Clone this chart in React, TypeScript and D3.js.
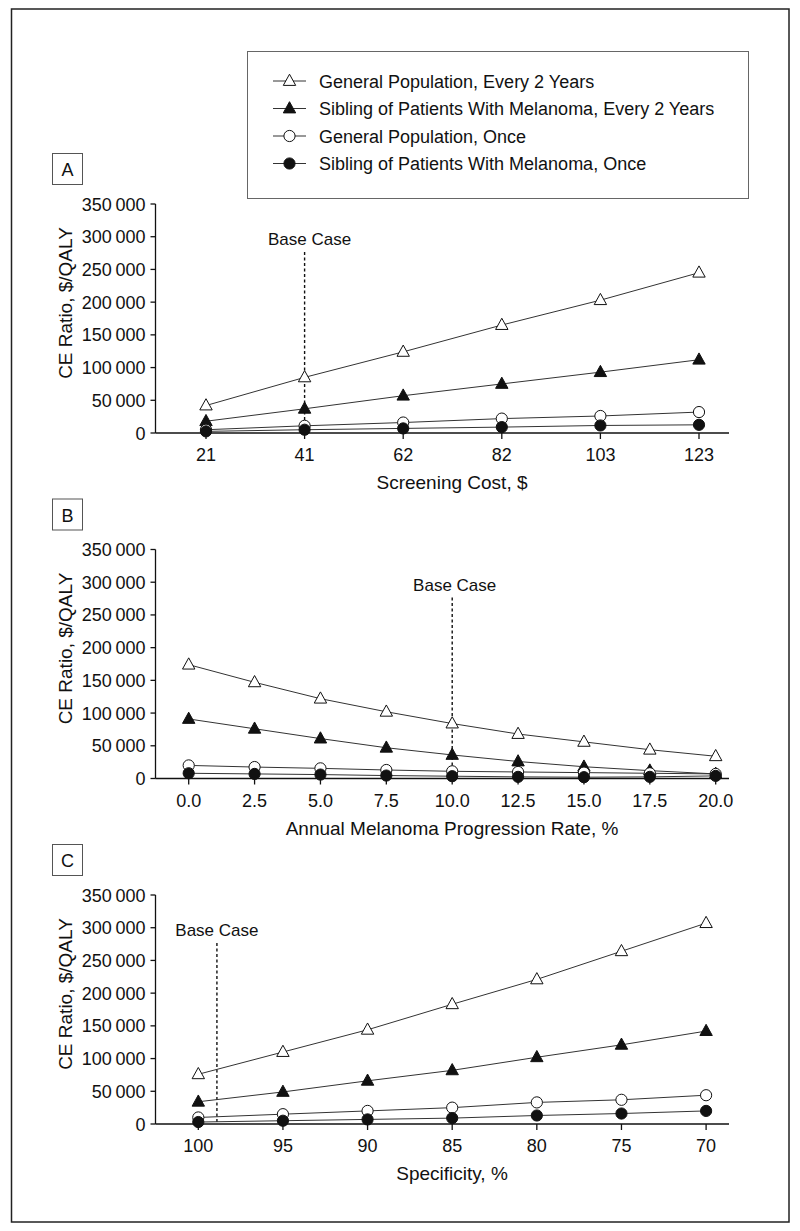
import React from "react";
import * as d3 from "d3";

const FONT = "'Liberation Sans', Arial, Helvetica, sans-serif";

// ---- data ----
const seriesNames = [
  "General Population, Every 2 Years",
  "Sibling of Patients With Melanoma, Every 2 Years",
  "General Population, Once",
  "Sibling of Patients With Melanoma, Once",
];
const seriesMarkers = ["triOpen", "triFilled", "circOpen", "circFilled"];

const yTickValues = [0, 50000, 100000, 150000, 200000, 250000, 300000, 350000];

// Panel A
const screeningCost = ["21", "41", "62", "82", "103", "123"];
const aGenEvery2 = [42000, 85000, 124000, 165000, 203000, 245000];
const aSibEvery2 = [18000, 37000, 57000, 75000, 93000, 112000];
const aGenOnce = [5000, 11000, 16000, 22000, 26000, 32000];
const aSibOnce = [2500, 5000, 7000, 9000, 11500, 12500];
const aBase = "41";

// Panel B
const progressionRate = [0, 2.5, 5, 7.5, 10, 12.5, 15, 17.5, 20];
const bGenEvery2 = [174000, 147000, 122000, 102000, 84000, 68000, 56000, 44000, 34000];
const bSibEvery2 = [91000, 76000, 61000, 47000, 36000, 26000, 18000, 12000, 7000];
const bGenOnce = [20000, 17500, 15500, 13000, 11000, 10000, 9000, 8000, 7000];
const bSibOnce = [8000, 7000, 6000, 4500, 3500, 2500, 2000, 2500, 4000];
const bBase = 10;

// Panel C
const specificity = [100, 95, 90, 85, 80, 75, 70];
const cGenEvery2 = [76000, 110000, 144000, 183000, 221000, 264000, 307000];
const cSibEvery2 = [34000, 49000, 66000, 82000, 102000, 121000, 142000];
const cGenOnce = [10000, 15000, 20000, 25000, 33000, 37000, 44000];
const cSibOnce = [3000, 5000, 7000, 9000, 13000, 16000, 20000];
const cBase = 98.9;

const fmtY = (v: number) =>
  v === 0 ? "0" : `${Math.floor(v / 1000)}\u2009${String(v % 1000).padStart(3, "0")}`;

function Marker({ type, x, y }: { type: string; x: number; y: number }) {
  if (type.startsWith("tri")) {
    const p = `M${x},${y - 6.8}L${x + 6.2},${y + 4.4}L${x - 6.2},${y + 4.4}Z`;
    return <path d={p} fill={type === "triFilled" ? "#111" : "#fff"} stroke="#111" strokeWidth={1} />;
  }
  return (
    <circle cx={x} cy={y} r={5.6} fill={type === "circFilled" ? "#111" : "#fff"} stroke="#111" strokeWidth={1} />
  );
}

type PanelDef = {
  letter: string;
  xTitle: string;
  ticks: { label: string; x: number }[];
  xs: number[];
  series: number[][];
  baseX: number;
  baseDx: number;
};

function buildPanels(): PanelDef[] {
  const xa = d3.scalePoint<string>().domain(screeningCost).range([206, 699]);
  const xb = d3.scaleLinear().domain([0, 20]).range([188.7, 715.7]);
  const xc = d3.scaleLinear().domain([100, 70]).range([198.3, 706.1]);
  return [
    {
      letter: "A",
      xTitle: "Screening Cost, $",
      ticks: screeningCost.map((c) => ({ label: c, x: xa(c) as number })),
      xs: screeningCost.map((c) => xa(c) as number),
      series: [aGenEvery2, aSibEvery2, aGenOnce, aSibOnce],
      baseX: xa(aBase) as number,
      baseDx: 5,
    },
    {
      letter: "B",
      xTitle: "Annual Melanoma Progression Rate, %",
      ticks: progressionRate.map((v) => ({ label: v.toFixed(1), x: xb(v) })),
      xs: progressionRate.map((v) => xb(v)),
      series: [bGenEvery2, bSibEvery2, bGenOnce, bSibOnce],
      baseX: xb(bBase),
      baseDx: 2.5,
    },
    {
      letter: "C",
      xTitle: "Specificity, %",
      ticks: specificity.map((v) => ({ label: String(v), x: xc(v) })),
      xs: specificity.map((v) => xc(v)),
      series: [cGenEvery2, cSibEvery2, cGenOnce, cSibOnce],
      baseX: xc(cBase),
      baseDx: 0,
    },
  ];
}

function Panel({ p, dy }: { p: PanelDef; dy: number }) {
  const y0 = 433 + dy;
  const yTop = 204 + dy;
  const y = d3.scaleLinear().domain([0, 350000]).range([y0, yTop]);
  const axisX = 155.5;
  const axisRight = 729;
  const line = d3
    .line<[number, number]>()
    .x((d) => d[0])
    .y((d) => y(d[1]));
  return (
    <g>
      <rect x={52.5} y={153.5 + dy} width={30} height={31} fill="#fff" stroke="#555" strokeWidth={1} />
      <text x={67.5} y={176 + dy} textAnchor="middle" fontSize={18} fontFamily={FONT} fill="#111">
        {p.letter}
      </text>
      <line x1={axisX} x2={axisX} y1={yTop} y2={y0} stroke="#111" strokeWidth={1.3} />
      {yTickValues.map((v) => (
        <g key={v}>
          <line x1={axisX - 5} x2={axisX} y1={y(v)} y2={y(v)} stroke="#111" strokeWidth={1.3} />
          <text x={145.5} y={y(v) + 6.5} textAnchor="end" fontSize={18} fontFamily={FONT} fill="#111">
            {fmtY(v)}
          </text>
        </g>
      ))}
      <text
        transform={`translate(71.5,${303 + dy}) rotate(-90)`}
        textAnchor="middle"
        fontSize={19}
        fontFamily={FONT}
        fill="#111"
      >
        CE Ratio, $/QALY
      </text>
      <line x1={axisX} x2={axisRight} y1={y0} y2={y0} stroke="#111" strokeWidth={1.6} />
      {p.ticks.map((t) => (
        <g key={t.label}>
          <line x1={t.x} x2={t.x} y1={y0} y2={y0 + 6} stroke="#111" strokeWidth={1.3} />
          <text x={t.x} y={y0 + 28} textAnchor="middle" fontSize={18} fontFamily={FONT} fill="#111">
            {t.label}
          </text>
        </g>
      ))}
      <text x={452} y={y0 + 56} textAnchor="middle" fontSize={19} fontFamily={FONT} fill="#111">
        {p.xTitle}
      </text>
      <line
        x1={p.baseX}
        x2={p.baseX}
        y1={252 + dy}
        y2={y0}
        stroke="#111"
        strokeWidth={1.4}
        strokeDasharray="3,2.5"
      />
      <text x={p.baseX + p.baseDx} y={245 + dy} textAnchor="middle" fontSize={17} fontFamily={FONT} fill="#111">
        Base Case
      </text>
      {p.series.map((s, i) => (
        <path
          key={"l" + i}
          d={line(s.map((v, j) => [p.xs[j], v] as [number, number])) || ""}
          fill="none"
          stroke="#333"
          strokeWidth={1}
        />
      ))}
      {p.series.map((s, i) => (
        <g key={"m" + i}>
          {s.map((v, j) => (
            <Marker key={j} type={seriesMarkers[i]} x={p.xs[j]} y={y(v)} />
          ))}
        </g>
      ))}
    </g>
  );
}

export default function App() {
  const panels = buildPanels();
  const legendY = [81, 108.5, 136, 163.5];
  return (
    <svg
      width={800}
      height={1231}
      style={{ position: "absolute", left: 0, top: 0, display: "block" }}
      xmlns="http://www.w3.org/2000/svg"
    >
      <rect x={0} y={0} width={800} height={1231} fill="#fff" />
      <rect x={11.5} y={9} width={777.5} height={1213} fill="none" stroke="#222" strokeWidth={1.5} />
      <rect x={247.5} y={51.5} width={501} height={147} fill="#fff" stroke="#666" strokeWidth={1} />
      {seriesNames.map((name, i) => (
        <g key={name}>
          <line x1={273} x2={306} y1={legendY[i]} y2={legendY[i]} stroke="#333" strokeWidth={1} />
          <Marker type={seriesMarkers[i]} x={289.5} y={legendY[i]} />
          <text x={319} y={legendY[i] + 6.5} fontSize={18} fontFamily={FONT} fill="#111">
            {name}
          </text>
        </g>
      ))}
      {panels.map((p, i) => (
        <Panel key={p.letter} p={p} dy={i * 345.5} />
      ))}
    </svg>
  );
}
